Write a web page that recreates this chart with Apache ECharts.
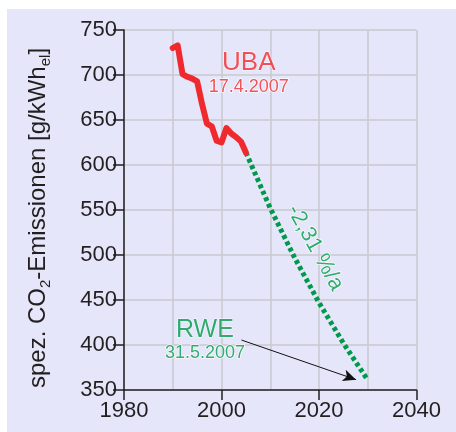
<!DOCTYPE html>
<html>
<head>
<meta charset="utf-8">
<script src="https://cdn.jsdelivr.net/npm/echarts@6/dist/echarts.min.js"></script>
<style>html,body{margin:0;padding:0;background:#fff;}#c{width:456px;height:432px;}</style>
</head>
<body>
<div id="c"></div>
<script>
// UBA measured values (17.4.2007)
const ubaYears  = [1990, 1991, 1992, 1993, 1994, 1995, 1996, 1997, 1998, 1999, 2000, 2001, 2002, 2003, 2004, 2005];
const ubaValues = [730, 733, 701, 698, 696, 693, 668, 646, 643, 627, 625, 641, 635, 631, 626, 614];
// RWE target path (31.5.2007), -2,31 %/a
const rweYears  = [2005, 2010, 2015, 2020, 2025, 2030];
const rweValues = [614, 552, 497, 447, 402, 361];
// axis ranges
const xRange = [1980, 2040];
const yRange = [350, 750];
// annotation texts
const ubaLabel = ['UBA', '17.4.2007'];
const rweLabel = ['RWE', '31.5.2007'];
const rateLabel = '-2,31 %/a';
const yName = ['spez. CO', '2', '-Emissionen [g/kWh', 'el', ']'];

const FONT = 'Liberation Sans, Arial, sans-serif';
const RED = '#ee2a2e';
const GREEN = '#00994c';
const INK = '#231f20';

const ubaData = ubaYears.map((y, i) => [y, ubaValues[i]]);
const rweData = rweYears.map((y, i) => [y, rweValues[i]]);

const chart = echarts.init(document.getElementById('c'), null, {renderer: 'canvas'});
const gridStyle = {color: '#c9c9cf', width: 1.5};
chart.setOption({
  backgroundColor: '#ffffff',
  animation: false,
  graphic: [
    {type: 'rect', z: -10, shape: {x: 7, y: 9, width: 449, height: 423}, style: {fill: '#e6e6fa'}},
    {type: 'text', x: 38, y: 218, rotation: Math.PI / 2, z: 10,
     style: {
       text: '{n|' + yName[0] + '}{s|' + yName[1] + '}{n|' + yName[2] + '}{s|' + yName[3] + '}{n|' + yName[4] + '}',
       align: 'center', verticalAlign: 'middle',
       rich: {
         n: {fontSize: 24, fontFamily: FONT, fill: INK, color: INK},
         s: {fontSize: 15, fontFamily: FONT, fill: INK, color: INK, padding: [16, 0, 0, 0]}
       }
     }}
  ],
  grid: {left: 124, top: 30, right: 39.5, bottom: 42, containLabel: false, outerBoundsMode: 'none'},
  xAxis: {
    type: 'value', min: xRange[0], max: xRange[1], interval: 20,
    axisLine: {show: true, onZero: false, lineStyle: {color: INK, width: 1.5}},
    axisTick: {show: true, length: 10, lineStyle: {color: INK, width: 1.5}},
    axisLabel: {fontSize: 22, fontFamily: FONT, color: INK, margin: 10, formatter: v => String(v)},
    splitLine: {show: true, lineStyle: gridStyle},
    minorTick: {show: false, splitNumber: 2},
    minorSplitLine: {show: true, lineStyle: gridStyle}
  },
  yAxis: {
    type: 'value', min: yRange[0], max: yRange[1], interval: 50,
    axisLine: {show: true, onZero: false, lineStyle: {color: INK, width: 1.5}},
    axisTick: {show: true, length: 11, lineStyle: {color: INK, width: 1.5}},
    axisLabel: {fontSize: 22, fontFamily: FONT, color: INK, margin: 7, formatter: v => String(v)},
    splitLine: {show: true, lineStyle: gridStyle}
  },
  series: [
    {
      type: 'line', data: rweData, symbol: 'none', z: 3,
      lineStyle: {color: GREEN, width: 5, type: [4, 3]},
      markLine: {
        silent: true, symbol: ['none', 'arrow'], symbolSize: [9, 13],
        label: {show: false},
        lineStyle: {color: '#111', width: 1, type: 'solid'},
        data: [[{coord: [2004.1, 405.5]}, {coord: [2027.6, 361.5]}]]
      }
    },
    {
      type: 'line', data: ubaData, symbol: 'none', z: 4,
      lineStyle: {color: RED, width: 6, join: 'round', cap: 'round'}
    },
    {
      type: 'scatter', symbolSize: 0, silent: true, z: 6,
      data: [
        {value: [2005.6, 714], label: {show: true, position: 'inside', formatter: ubaLabel[0], fontSize: 26, fontFamily: FONT, color: RED, textBorderColor: '#fff', textBorderWidth: 1}},
        {value: [2005.6, 687], label: {show: true, position: 'inside', formatter: ubaLabel[1], fontSize: 18, fontFamily: FONT, color: RED, textBorderColor: '#fff', textBorderWidth: 1.5}},
        {value: [1996.6, 417], label: {show: true, position: 'inside', formatter: rweLabel[0], fontSize: 25, fontFamily: FONT, color: GREEN, textBorderColor: '#fff', textBorderWidth: 1}},
        {value: [1996.6, 391], label: {show: true, position: 'inside', formatter: rweLabel[1], fontSize: 18, fontFamily: FONT, color: GREEN, textBorderColor: '#fff', textBorderWidth: 1.5}},
        {value: [2019.2, 508], label: {show: true, position: 'inside', rotate: -61, formatter: rateLabel, fontSize: 22, fontFamily: FONT, color: GREEN, textBorderColor: '#fff', textBorderWidth: 1.5}}
      ]
    }
  ]
});
</script>
</body>
</html>
